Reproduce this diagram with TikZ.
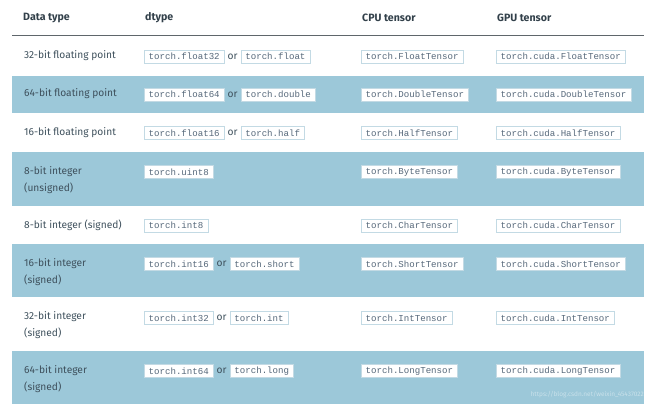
\documentclass[tikz,border=0pt]{standalone}
\usepackage{fontspec}
\setmainfont{Fira Sans}
\setmonofont{Liberation Mono}
\usetikzlibrary{positioning}

\definecolor{rowblue}{HTML}{9CC8D9}
\definecolor{ink}{HTML}{3E505C}
\definecolor{codeink}{HTML}{56687A}
\definecolor{boxline}{HTML}{C3DAE4}
\definecolor{rule}{HTML}{5F666B}

\tikzset{
 cell/.style={anchor=west,inner sep=0pt,text=ink,align=left,
   font=\fontsize{10.2}{17}\selectfont},
 head/.style={cell,text=ink!80!black,font=\bfseries\fontsize{10.6}{17}\selectfont},
 code/.style={anchor=west,draw=boxline,fill=white,inner xsep=4.5pt,inner ysep=0pt,
   minimum height=13pt,text=codeink,font=\ttfamily\fontsize{9.1}{10}\selectfont},
 orword/.style={cell,inner xsep=3pt},
}

\begin{document}
\begin{tikzpicture}[x=1pt,y=-1pt]
\useasboundingbox (0,0) rectangle (650,406);

\newcommand{\stripe}[3] % [top][bottom][colour]
{
 \fill[#3] (12,#1) rectangle (644,#2);
}

\stripe{76}{113}{rowblue}
\stripe{152}{206}{rowblue}
\stripe{244}{297}{rowblue}
\stripe{351}{404}{rowblue}

% header
\node[head] (hType) at (23,18) {Data type};
\node[head] (hDtype) at (145,18) {dtype};
\node[head] (hCpu) at (362,18) {CPU tensor};
\node[head] (hGpu) at (497,18) {GPU tensor};
\coordinate (ruleL) at (12,35);
\coordinate (ruleR) at (644,35);
\draw[rule,line width=0.9pt] (ruleL) -- (ruleR);

% data type, CPU and GPU columns
\foreach \ty/\cy/\name/\kind [count=\i] in {
  56/56.5/{32-bit floating point}/Float,
  94/94.5/{64-bit floating point}/Double,
  133/133/{16-bit floating point}/Half,
  180/172/{8-bit integer\\(unsigned)}/Byte,
  225/225.5/{8-bit integer (signed)}/Char,
  272/264/{16-bit integer\\(signed)}/Short,
  325.5/318/{32-bit integer\\(signed)}/Int,
  379/371/{64-bit integer\\(signed)}/Long}
{
 \node[cell] (type\i) at (24,\ty) {\name};
 \node[code] (cpu\i) at (361,\cy) {torch.\kind Tensor};
 \node[code] (gpu\i) at (496,\cy) {torch.cuda.\kind Tensor};
}

% dtype column
\node[code] (dt1a) at (144,56.5) {torch.float32};
\node[orword,right=0pt of dt1a] (or1) {or};
\node[code,right=0pt of or1] (dt1b) {torch.float};

\node[code] (dt2a) at (144,94.5) {torch.float64};
\node[orword,right=0pt of dt2a] (or2) {or};
\node[code,right=0pt of or2] (dt2b) {torch.double};

\node[code] (dt3a) at (144,133) {torch.float16};
\node[orword,right=0pt of dt3a] (or3) {or};
\node[code,right=0pt of or3] (dt3b) {torch.half};

\node[code] (dt4a) at (144,172) {torch.uint8};

\node[code] (dt5a) at (144,225.5) {torch.int8};

\node[code] (dt6a) at (144,264) {torch.int16};
\node[orword,right=0pt of dt6a] (or6) {or};
\node[code,right=0pt of or6] (dt6b) {torch.short};

\node[code] (dt7a) at (144,318) {torch.int32};
\node[orword,right=0pt of dt7a] (or7) {or};
\node[code,right=0pt of or7] (dt7b) {torch.int};

\node[code] (dt8a) at (144,371) {torch.int64};
\node[orword,right=0pt of dt8a] (or8) {or};
\node[code,right=0pt of or8] (dt8b) {torch.long};

\node[anchor=east,inner sep=0pt,text=white,opacity=0.45,
  font=\fontsize{6.5}{8}\selectfont] (mark) at (644,395) {https://blog.csdn.net/weixin\_45437022};
\end{tikzpicture}
\end{document}
